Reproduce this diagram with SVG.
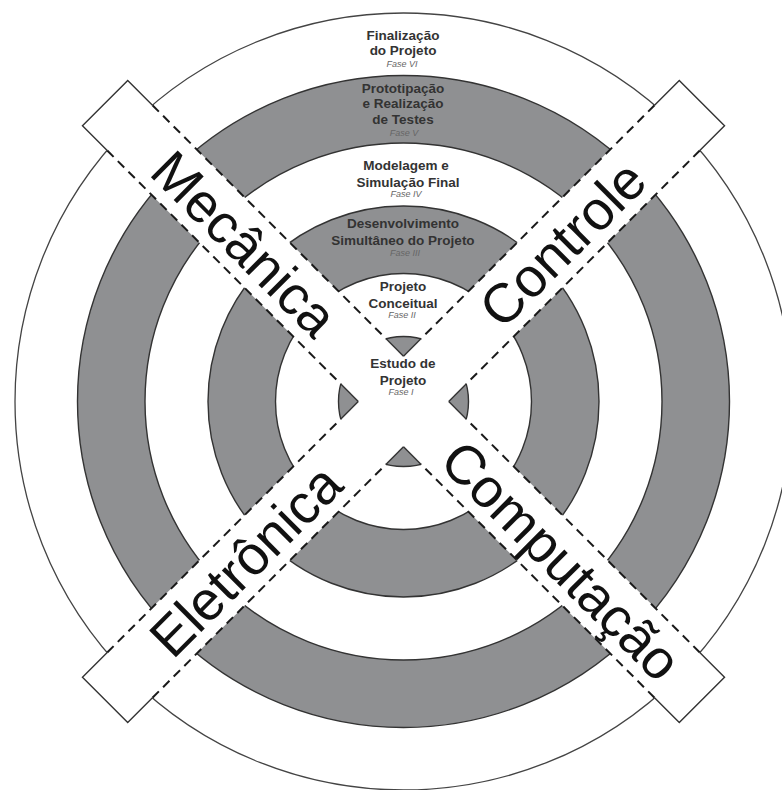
<svg xmlns="http://www.w3.org/2000/svg" width="782" height="790" viewBox="0 0 782 790">
  <defs>
    <style>
      .ring { fill: #8f9092; stroke: #333; stroke-width: 1.4; fill-rule: evenodd; }
      .disk { fill: #fff; stroke: #444; stroke-width: 1.3; }
      .band { fill: #fff; stroke: none; }
      .edge-dash { fill: none; stroke: #1a1a1a; stroke-width: 2; stroke-dasharray: 9 6; }
      .edge-solid { fill: none; stroke: #333; stroke-width: 1.4; }
      .phase { font-family: "Liberation Sans", Arial, sans-serif; font-weight: bold; font-size: 13.5px; fill: #333; text-anchor: middle; }
      .fase { font-family: "Liberation Sans", Arial, sans-serif; font-style: italic; font-size: 9px; fill: #666; text-anchor: middle; }
      .area { font-family: "Liberation Sans", Arial, sans-serif; font-size: 55px; fill: #111; text-anchor: middle; }
    </style>
    <!-- one diagonal strip in its own frame: long edges at y = ±32 -->
    <g id="strip">
      <rect class="band" x="-422" y="-32" width="844" height="64"/>
    </g>
    <g id="strip-edges">
      <!-- dashed inside the outer circle -->
      <line class="edge-dash" x1="387" y1="-32" x2="56.6" y2="-32"/>
      <line class="edge-dash" x1="387" y1="32" x2="56.6" y2="32"/>
      <line class="edge-dash" x1="-387" y1="-32" x2="-56.6" y2="-32"/>
      <line class="edge-dash" x1="-387" y1="32" x2="-56.6" y2="32"/>
      <!-- short solid pieces along the central wedges -->
      <line class="edge-solid" x1="32" y1="-32" x2="56.6" y2="-32"/>
      <line class="edge-solid" x1="32" y1="32" x2="56.6" y2="32"/>
      <line class="edge-solid" x1="-32" y1="-32" x2="-56.6" y2="-32"/>
      <line class="edge-solid" x1="-32" y1="32" x2="-56.6" y2="32"/>
      <!-- solid tabs outside the outer circle -->
      <polyline class="edge-solid" points="387,-32 422,-32 422,32 387,32"/>
      <polyline class="edge-solid" points="-387,-32 -422,-32 -422,32 -387,32"/>
    </g>
  </defs>

  <rect width="782" height="790" fill="#fff"/>

  <g id="rings" transform="translate(403.5,401.5)">
    <g id="ring-outer">
      <circle class="disk" r="388.5"/>
    </g>
    <g id="ring-fase-v">
      <path class="ring" d="M326,0 A326,326 0 1 0 -326,0 A326,326 0 1 0 326,0 Z M258.5,0 A258.5,258.5 0 1 0 -258.5,0 A258.5,258.5 0 1 0 258.5,0 Z"/>
    </g>
    <g id="ring-fase-iii">
      <path class="ring" d="M195.5,0 A195.5,195.5 0 1 0 -195.5,0 A195.5,195.5 0 1 0 195.5,0 Z M128,0 A128,128 0 1 0 -128,0 A128,128 0 1 0 128,0 Z"/>
    </g>
    <g id="core-fase-i">
      <circle class="ring" r="65"/>
    </g>
  </g>

  <g id="connectors" transform="translate(403.5,401.5)">
    <use href="#strip" transform="rotate(45)"/>
    <use href="#strip" transform="rotate(-45)"/>
    <use href="#strip-edges" transform="rotate(45)"/>
    <use href="#strip-edges" transform="rotate(-45)"/>
  </g>

  <g id="phase-6">
    <text class="phase" x="403" y="40">Finalização</text>
    <text class="phase" x="403" y="55">do Projeto</text>
    <text class="fase" x="402" y="67">Fase VI</text>
  </g>
  <g id="phase-5">
    <text class="phase" x="403" y="93">Prototipação</text>
    <text class="phase" x="403" y="108">e Realização</text>
    <text class="phase" x="403" y="124">de Testes</text>
    <text class="fase" x="404" y="136">Fase V</text>
  </g>
  <g id="phase-4">
    <text class="phase" x="406" y="170">Modelagem e</text>
    <text class="phase" x="408" y="187">Simulação Final</text>
    <text class="fase" x="406" y="197">Fase IV</text>
  </g>
  <g id="phase-3">
    <text class="phase" x="403" y="228">Desenvolvimento</text>
    <text class="phase" x="403" y="245">Simultâneo do Projeto</text>
    <text class="fase" x="405" y="256">Fase III</text>
  </g>
  <g id="phase-2">
    <text class="phase" x="403" y="291">Projeto</text>
    <text class="phase" x="403" y="308">Conceitual</text>
    <text class="fase" x="402" y="318">Fase II</text>
  </g>
  <g id="phase-1">
    <text class="phase" x="403" y="368">Estudo de</text>
    <text class="phase" x="403" y="385">Projeto</text>
    <text class="fase" x="401" y="395">Fase I</text>
  </g>

  <g id="area-mecanica" transform="translate(403.5,401.5) rotate(45)">
    <text class="area" x="-224" y="20">Mecânica</text>
  </g>
  <g id="area-computacao" transform="translate(403.5,401.5) rotate(45)">
    <text class="area" x="224" y="20">Computação</text>
  </g>
  <g id="area-controle" transform="translate(403.5,401.5) rotate(-45)">
    <text class="area" x="224" y="20">Controle</text>
  </g>
  <g id="area-eletronica" transform="translate(403.5,401.5) rotate(-45)">
    <text class="area" x="-224" y="20">Eletrônica</text>
  </g>
</svg>
